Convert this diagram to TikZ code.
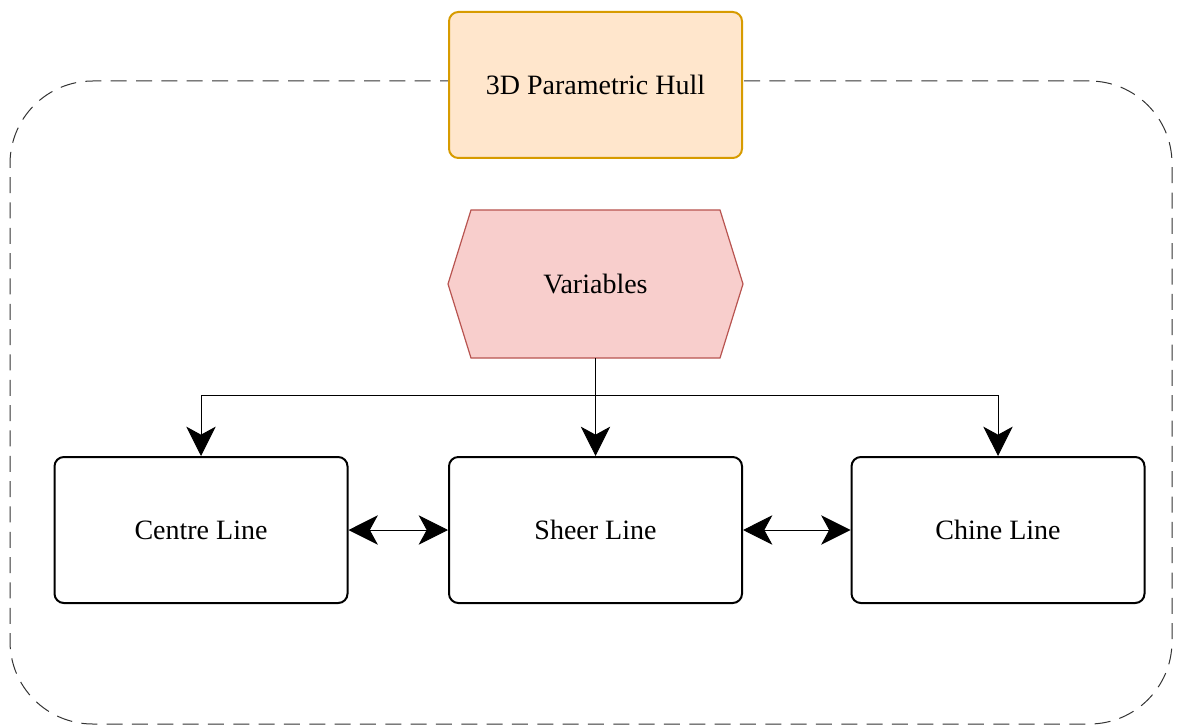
\documentclass[tikz,border=0pt]{standalone}
\usepackage{fontspec}
\setmainfont{Liberation Serif}
\usetikzlibrary{arrows.meta,backgrounds}
\definecolor{hullfill}{HTML}{FFE6CC}
\definecolor{hulldraw}{HTML}{D79B00}
\definecolor{varfill}{HTML}{F8CECC}
\definecolor{vardraw}{HTML}{B85450}
\tikzset{
  lbl/.style={font=\fontsize{21}{25}\selectfont, inner sep=0pt, text=black},
  box/.style={lbl, draw=black, line width=1.5pt, rounded corners=7pt, minimum width=219.75pt, minimum height=109.5pt},
  conn/.style={line width=0.75pt, draw=black, -{Stealth[length=22pt,width=22pt,inset=6pt]}},
  biconn/.style={line width=0.75pt, draw=black, {Stealth[length=22pt,width=22pt,inset=6pt]}-{Stealth[length=22pt,width=22pt,inset=6pt]}},
  frame/.style={draw=black!80, line width=0.75pt, dash pattern=on 12pt off 7pt, rounded corners=62pt, minimum width=871.5pt, minimum height=482.25pt, inner sep=0pt},
}
\begin{document}
\begin{tikzpicture}[x=0.75pt,y=-0.75pt]
\useasboundingbox (0,0) rectangle (1181,727);
\node[frame] (container) at (591,402.5) {};
\node[box, fill=hullfill, draw=hulldraw] (hull) at (595.5,85) {3D Parametric Hull};
\node[box, draw=none] (var) at (595.5,284) {Variables};
\begin{scope}[on background layer]
\draw[fill=varfill, draw=vardraw, line width=0.9pt]
  ([xshift=17.25pt]var.north west) -- ([xshift=-17.25pt]var.north east) -- (var.east)
  -- ([xshift=-17.25pt]var.south east) -- ([xshift=17.25pt]var.south west) -- (var.west) -- cycle;
\end{scope}
\node[box] (centre) at (201,530) {Centre Line};
\node[box] (sheer) at (595.5,530) {Sheer Line};
\node[box] (chine) at (998,530) {Chine Line};
\coordinate (split) at (595.5,395);
\draw[conn] (var.south) -- (sheer.north);
\draw[conn] (split) -| (centre.north);
\draw[conn] (split) -| (chine.north);
\draw[biconn] (centre.east) -- (sheer.west);
\draw[biconn] (sheer.east) -- (chine.west);
\end{tikzpicture}
\end{document}
